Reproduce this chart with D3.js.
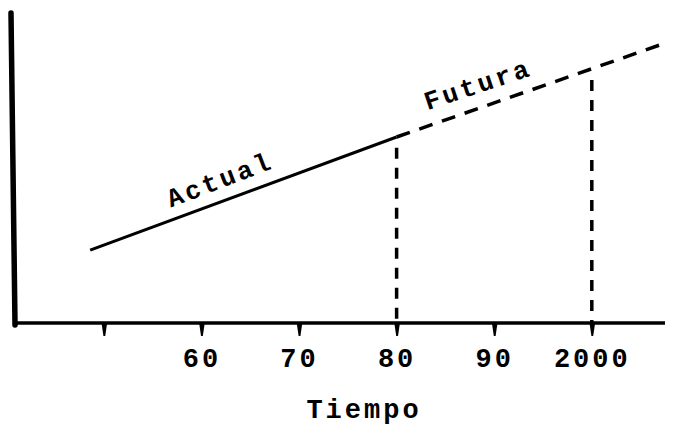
<!DOCTYPE html>
<html>
<head>
<meta charset="utf-8">
<script src="https://cdn.jsdelivr.net/npm/d3@7"></script>
<style>
  html, body { margin: 0; padding: 0; background: #fff; }
  svg { display: block; }
  text { font-family: "Liberation Mono", "DejaVu Sans Mono", monospace; font-weight: bold; fill: #000; }
</style>
</head>
<body>
<svg id="chart" width="673" height="433"></svg>
<script>
// ---- data ----
const tickYears = [1950, 1960, 1970, 1980, 1990, 2000];
const tickLabels = ["", "60", "70", "80", "90", "2000"];
const actualYears = [1948.6, 1980];
const actualValues = [23.5, 60];
const futureYears = [1980, 2007.8];
const futureValues = [60, 90.6];
const markerYears = [1980, 2000];
const markerTops = [56.5, 78.4];
const seriesNames = ["Actual", "Futura"];
const axisTitle = "Tiempo";

// ---- drawing ----
const svg = d3.select("#chart");
const x = d3.scaleLinear().domain([1941, 2007.5]).range([16, 665]);
const y = d3.scaleLinear().domain([0, 100]).range([323, 13]);

// y axis (plain line, slightly leaning as in the scan)
svg.append("line")
  .attr("x1", x(1941) - 5).attr("x2", x(1941) - 1)
  .attr("y1", y(100)).attr("y2", y(0) + 2)
  .attr("stroke", "#000").attr("stroke-width", 5.5).attr("stroke-linecap", "round");

// x axis
const xAxis = d3.axisBottom(x)
  .tickValues(tickYears)
  .tickSize(13)
  .tickSizeOuter(0)
  .tickFormat((d, i) => tickLabels[i]);
const gx = svg.append("g").attr("transform", `translate(0,${y(0)})`).call(xAxis);
gx.select(".domain").attr("stroke", "#000").attr("stroke-width", 3.5)
  .attr("d", `M${x(1941) - 3},0H${x(2007.5)}`);
gx.selectAll(".tick line").remove();
gx.selectAll(".tick").insert("path", "text")
  .attr("d", "M-2.8,0L2.8,0L0.9,13L-0.9,13Z")
  .attr("fill", "#000");
gx.selectAll(".tick text")
  .attr("y", 44).attr("dy", 0)
  .style("font-size", "27px")
  .style("letter-spacing", "3px")
  .style("font-family", "'Liberation Mono', monospace")
  .style("font-weight", "bold");

// axis title
svg.append("text")
  .attr("x", 364).attr("y", 418)
  .attr("text-anchor", "middle")
  .style("font-size", "27px")
  .style("letter-spacing", "3px")
  .text(axisTitle);

const line = d3.line().x(d => x(d[0])).y(d => y(d[1]));

// actual (solid)
svg.append("path")
  .datum(actualYears.map((yr, i) => [yr, actualValues[i]]))
  .attr("d", line).attr("fill", "none")
  .attr("stroke", "#000").attr("stroke-width", 3);

// future (dashed)
svg.append("path")
  .datum(futureYears.map((yr, i) => [yr, futureValues[i]]))
  .attr("d", line).attr("fill", "none")
  .attr("stroke", "#000").attr("stroke-width", 3.5)
  .attr("stroke-dasharray", "14,10");

// vertical markers
svg.selectAll(".marker").data(markerYears).enter().append("line")
  .attr("class", "marker")
  .attr("x1", d => x(d)).attr("x2", d => x(d))
  .attr("y1", (d, i) => y(markerTops[i])).attr("y2", y(0))
  .attr("stroke", "#000").attr("stroke-width", 3.5)
  .attr("stroke-dasharray", "11,9");

// series labels
function labelAt(name, year, val, angle, dx, dy) {
  svg.append("text")
    .attr("transform", `translate(${x(year) + dx},${y(val) + dy}) rotate(${angle})`)
    .attr("text-anchor", "middle")
    .style("font-size", "26px")
    .style("letter-spacing", "3px")
    .text(name);
}
labelAt(seriesNames[0], 1962.2, 39.5, -21, 0, -13);
labelAt(seriesNames[1], 1988.6, 69.5, -18.5, 0, -15);
</script>
</body>
</html>
